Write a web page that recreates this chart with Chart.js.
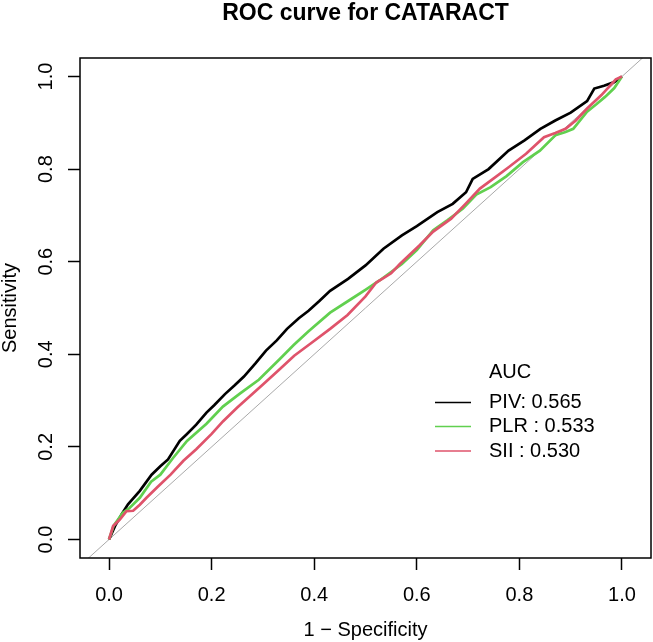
<!DOCTYPE html>
<html><head><meta charset="utf-8">
<script src="https://cdn.jsdelivr.net/npm/chart.js@4.4.1/dist/chart.umd.min.js"></script>
<style>html,body{margin:0;padding:0;background:#fff;} #wrap{width:653px;height:642px;}</style>
</head><body><div id="wrap"><canvas id="c" width="653" height="642"></canvas></div>
<script>
const titleText = "ROC curve for CATARACT";
const xTitle = "1 \u2212 Specificity";
const yTitle = "Sensitivity";
const tickValues = [0, 0.2, 0.4, 0.6, 0.8, 1.0];
const tickLabels = ["0.0", "0.2", "0.4", "0.6", "0.8", "1.0"];
const legendTitle = "AUC";
const seriesNames = ["PIV", "PLR", "SII"];
const legendLabels = ["PIV: 0.565", "PLR : 0.533", "SII : 0.530"];
const identityX = [-0.2, 1.2];
const identityY = [-0.2, 1.2];

const pivFpr = [0,0.012,0.025,0.037,0.06,0.083,0.1,0.115,0.138,0.152,0.17,0.19,0.205,0.226,0.245,0.263,0.285,0.306,0.327,0.347,0.37,0.389,0.41,0.431,0.466,0.5,0.535,0.571,0.6,0.64,0.67,0.696,0.709,0.74,0.779,0.81,0.841,0.87,0.9,0.932,0.946,0.965,0.985,1];
const pivTpr = [0,0.03,0.055,0.076,0.105,0.14,0.158,0.173,0.213,0.228,0.248,0.274,0.29,0.314,0.333,0.352,0.38,0.408,0.43,0.455,0.478,0.494,0.515,0.537,0.563,0.592,0.628,0.657,0.677,0.707,0.725,0.75,0.779,0.8,0.84,0.862,0.887,0.905,0.922,0.947,0.974,0.98,0.988,1];

const plrFpr = [0,0.009,0.027,0.04,0.06,0.082,0.1,0.124,0.152,0.19,0.222,0.255,0.292,0.333,0.36,0.389,0.431,0.473,0.502,0.528,0.571,0.6,0.632,0.66,0.69,0.716,0.744,0.775,0.807,0.84,0.87,0.89,0.905,0.932,0.95,0.967,0.985,1];
const plrTpr = [0,0.03,0.058,0.068,0.09,0.125,0.14,0.175,0.213,0.25,0.287,0.315,0.345,0.39,0.42,0.45,0.49,0.52,0.541,0.56,0.595,0.625,0.668,0.69,0.715,0.745,0.761,0.785,0.815,0.84,0.873,0.88,0.887,0.924,0.94,0.956,0.975,1];

const siiFpr = [0,0.008,0.021,0.034,0.047,0.06,0.073,0.096,0.12,0.145,0.17,0.2,0.222,0.25,0.275,0.3,0.33,0.361,0.395,0.431,0.465,0.5,0.521,0.55,0.567,0.605,0.632,0.667,0.695,0.723,0.75,0.779,0.813,0.848,0.87,0.89,0.91,0.932,0.96,0.988,1];
const siiTpr = [0,0.029,0.043,0.061,0.062,0.075,0.09,0.115,0.14,0.17,0.195,0.228,0.255,0.285,0.31,0.335,0.365,0.397,0.425,0.455,0.485,0.525,0.555,0.575,0.595,0.635,0.665,0.693,0.725,0.758,0.78,0.804,0.833,0.869,0.878,0.887,0.905,0.931,0.96,0.994,1];

const colors = { PIV: "#000000", PLR: "#61D04F", SII: "#DF536B", identity: "#A9A9A9" };
const FONT = '"Liberation Sans", Arial, Helvetica, sans-serif';
const FS = 20;

function pts(xs, ys) { return xs.map((x, i) => ({ x: x, y: ys[i] })); }

const framePlugin = {
  id: 'frame',
  afterDraw(chart) {
    const { ctx, chartArea: a } = chart;
    ctx.save();
    ctx.strokeStyle = '#000';
    ctx.lineWidth = 1.5;
    ctx.strokeRect(a.left, a.top, a.right - a.left, a.bottom - a.top);
    ctx.fillStyle = '#000';
    ctx.font = 'bold 23px ' + FONT;
    ctx.textAlign = 'center';
    ctx.textBaseline = 'middle';
    ctx.fillText(titleText, (a.left + a.right) / 2, 14);
    ctx.font = FS + 'px ' + FONT;
    ctx.textAlign = 'left';
    ctx.fillText(legendTitle, 489, 372);
    const rowY = [402.5, 426.5, 451];
    seriesNames.forEach((n, i) => {
      ctx.strokeStyle = colors[n];
      ctx.lineWidth = 1.3;
      ctx.beginPath();
      ctx.moveTo(435, rowY[i]);
      ctx.lineTo(471, rowY[i]);
      ctx.stroke();
      ctx.fillText(legendLabels[i], 489, rowY[i]);
    });
    ctx.restore();
  }
};

const ds = (label, xs, ys, color, w) => ({
  label, data: pts(xs, ys), borderColor: color, backgroundColor: color,
  borderWidth: w, pointRadius: 0, showLine: true, tension: 0, fill: false
});

new Chart(document.getElementById('c'), {
  type: 'scatter',
  data: {
    datasets: [
      ds('SII', siiFpr, siiTpr, colors.SII, 2.7),
      ds('PLR', plrFpr, plrTpr, colors.PLR, 2.7),
      ds('PIV', pivFpr, pivTpr, colors.PIV, 2.7),
      ds('identity', identityX, identityY, colors.identity, 1)
    ]
  },
  options: {
    responsive: false,
    animation: false,
    devicePixelRatio: 1,
    layout: { padding: { top: 58, right: 2, left: 0, bottom: 0 } },
    plugins: { legend: { display: false }, title: { display: false }, tooltip: { enabled: false } },
    scales: {
      x: {
        type: 'linear', min: -0.0566, max: 1.0566,
        afterBuildTicks: s => { s.ticks = tickValues.map(v => ({ value: v })); },
        afterFit: s => { s.height = 84; },
        ticks: { color: '#000', font: { family: FONT, size: FS }, padding: 13, maxRotation: 0, minRotation: 0,
          callback: v => tickLabels[tickValues.indexOf(v)] },
        grid: { drawOnChartArea: false, drawTicks: true, tickLength: 12, tickColor: '#000', tickWidth: 1.5 },
        border: { display: false },
        title: { display: true, text: xTitle, color: '#000', font: { family: FONT, size: FS }, padding: { top: 0, bottom: 0 } }
      },
      y: {
        type: 'linear', min: -0.04, max: 1.04,
        afterBuildTicks: s => { s.ticks = tickValues.map(v => ({ value: v })); },
        afterFit: s => { s.width = 80; },
        ticks: { color: '#000', font: { family: FONT, size: FS }, padding: 8, minRotation: 90, maxRotation: 90, crossAlign: 'center',
          callback: v => tickLabels[tickValues.indexOf(v)] },
        grid: { drawOnChartArea: false, drawTicks: true, tickLength: 12, tickColor: '#000', tickWidth: 1.5 },
        border: { display: false },
        title: { display: true, text: yTitle, color: '#000', font: { family: FONT, size: FS, lineHeight: 1.0 }, padding: { top: 0, bottom: 0 } }
      }
    }
  },
  plugins: [framePlugin]
});
</script>
</body></html>
